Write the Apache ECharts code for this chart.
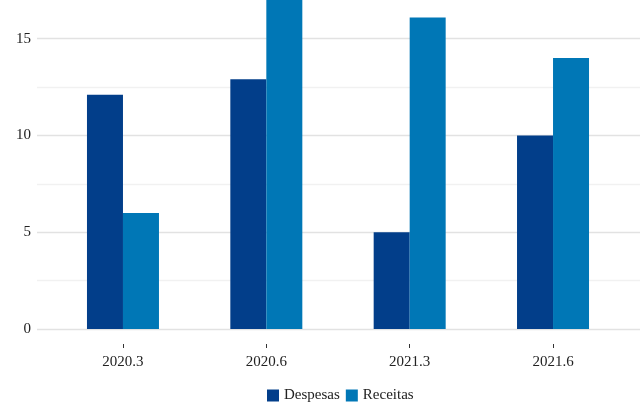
<!DOCTYPE html>
<html><head><meta charset="utf-8">
<script src="https://cdn.jsdelivr.net/npm/echarts@6/dist/echarts.min.js"></script>
<style>html,body{margin:0;padding:0;background:#fff}#c{width:640px;height:405px}</style>
</head><body><div id="c"></div>
<script>
const categories = ['2020.3', '2020.6', '2021.3', '2021.6'];
const despesas = [12.1, 12.9, 5, 10];
const receitas = [6, 17, 16.1, 14];
const seriesNames = ['Despesas', 'Receitas'];
const yTicks = [0, 5, 10, 15];

const FONT = 'Liberation Serif';
const chart = echarts.init(document.getElementById('c'), null, {renderer: 'canvas'});
const yMax = 17;
chart.setOption({
  backgroundColor: '#fff',
  animation: false,
  textStyle: {fontFamily: FONT},
  grid: [
    {left: 37, right: 0, top: 0, bottom: 76},
    {left: 51.3, right: 15.3, top: 0, bottom: 76},
    {left: 51.3, right: 15.3, top: 343, bottom: 61}
  ],
  xAxis: [
    {gridIndex: 0, type: 'value', show: false, min: 0, max: 1},
    {gridIndex: 1, type: 'category', data: categories, show: false},
    {gridIndex: 2, type: 'category', data: categories, position: 'bottom',
     axisLine: {show: false},
     axisTick: {show: true, length: 4, alignWithLabel: true, lineStyle: {color: '#333'}},
     axisLabel: {color: '#222', fontFamily: FONT, fontSize: 15, margin: 11}}
  ],
  yAxis: [
    {gridIndex: 0, type: 'value', min: 0, max: yMax, interval: 2.5,
     axisLine: {show: false}, axisTick: {show: false},
     axisLabel: {color: '#222', fontFamily: FONT, fontSize: 15, margin: 6,
       formatter: v => (yTicks.includes(v) ? String(v) : '')},
     splitLine: {show: true, showMaxLine: false, lineStyle: {color: ['#e2e2e2', '#f1f1f1'], width: 1.3}}},
    {gridIndex: 1, type: 'value', min: 0, max: yMax, show: false, splitLine: {show: false}},
    {gridIndex: 2, type: 'value', min: 0, max: 1, show: false, splitLine: {show: false}}
  ],
  legend: {
    top: 388, left: 267, itemWidth: 12, itemHeight: 12, itemGap: 6,
    icon: 'rect', padding: 0,
    textStyle: {color: '#222', fontFamily: FONT, fontSize: 15},
    data: seriesNames
  },
  series: [
    {name: 'Despesas', type: 'bar', xAxisIndex: 1, yAxisIndex: 1, data: despesas,
     barWidth: 36, barGap: '0%', itemStyle: {color: '#023e8a'}},
    {name: 'Receitas', type: 'bar', xAxisIndex: 1, yAxisIndex: 1, data: receitas,
     barWidth: 36, barGap: '0%', itemStyle: {color: '#0077b6'}}
  ]
});
</script></body></html>
